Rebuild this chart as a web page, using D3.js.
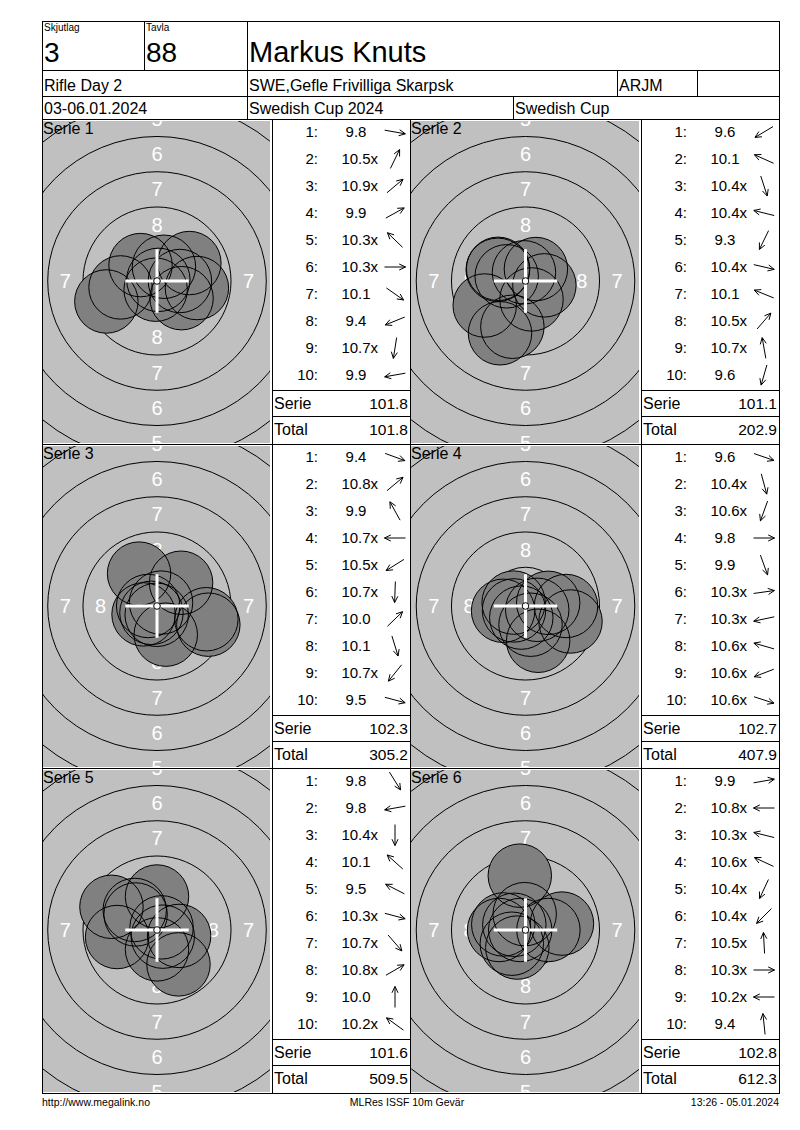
<!DOCTYPE html>
<html>
<head>
<meta charset="utf-8">
<script src="https://cdn.jsdelivr.net/npm/d3@7"></script>
<style>
  body { margin: 0; background: #fff; }
  svg text { font-family: "Liberation Sans", Arial, sans-serif; fill: #000; }
</style>
</head>
<body>
<div id="card"></div>
<script>
// header values
const headerLabels = ["Skjutlag", "Tavla"];
const headerValues = ["3", "88"];
const shooterName = "Markus Knuts";
const eventInfo = ["Rifle Day 2", "SWE,Gefle Frivilliga Skarpsk", "ARJM", ""];
const matchInfo = ["03-06.01.2024", "Swedish Cup 2024", "Swedish Cup"];
const footerInfo = ["http://www.megalink.no", "MLRes ISSF 10m Gevär", "13:26 - 05.01.2024"];

// series data: decimal score, inner ten flag and direction (degrees, 0 = right, 90 = up)
const seriesNames = ["Serie 1", "Serie 2", "Serie 3", "Serie 4", "Serie 5", "Serie 6"];
const seriesScores = [
  [9.8, 10.5, 10.9, 9.9, 10.3, 10.3, 10.1, 9.4, 10.7, 9.9],
  [9.6, 10.1, 10.4, 10.4, 9.3, 10.4, 10.1, 10.5, 10.7, 9.6],
  [9.4, 10.8, 9.9, 10.7, 10.5, 10.7, 10.0, 10.1, 10.7, 9.5],
  [9.6, 10.4, 10.6, 9.8, 9.9, 10.3, 10.3, 10.6, 10.6, 10.6],
  [9.8, 9.8, 10.4, 10.1, 9.5, 10.3, 10.7, 10.8, 10.0, 10.2],
  [9.9, 10.8, 10.3, 10.6, 10.4, 10.4, 10.5, 10.3, 10.2, 9.4]
];
const seriesInner = [
  [0, 1, 1, 0, 1, 1, 0, 0, 1, 0],
  [0, 0, 1, 1, 0, 1, 0, 1, 1, 0],
  [0, 1, 0, 1, 1, 1, 0, 0, 1, 0],
  [0, 1, 1, 0, 0, 1, 1, 1, 1, 1],
  [0, 0, 1, 0, 0, 1, 1, 1, 0, 1],
  [0, 1, 1, 1, 1, 1, 1, 1, 1, 0]
];
const seriesAngles = [
  [-10, 64, 40, 29, 136, 0, -35, 202, 261, 190],
  [211, 156, -72, 166, 244, -13, 158, 49, 100, 254],
  [-20, 40, 119, 180, 212, 268, 44, -73, 231, -15],
  [-19, -75, 250, 0, -70, 8, 192, 164, 201, -18],
  [-58, 190, 270, 138, 153, -15, -49, 30, 90, 144],
  [10, 180, 166, 155, 245, 225, 93, 0, 180, 96]
];
const ringNumbers = [1, 2, 3, 4, 5, 6, 7, 8];

// ISSF 10m air rifle geometry in mm
const ringRadius = n => 0.25 + 2.5 * (10 - n);
const labelRadius = n => 2.5 * (10 - n) - 1.0;
const pelletRadius = 2.25;
const shotDistance = s => (10.95 - s) * 2.5;

const W = 800, H = 1130;
const frameL = 42, frameR = 779, frameT = 21, frameB = 1093;
const pxPerMm = 14.1;
const fmt = d3.format(".1f");

const svg = d3.select("#card").append("svg")
  .attr("width", W)
  .attr("height", H)
  .attr("viewBox", `0 0 ${W} ${H}`);

const lines = svg.append("g")
  .attr("stroke", "#000")
  .attr("stroke-width", 1)
  .attr("shape-rendering", "crispEdges");

function hline(y, x1, x2) {
  lines.append("line").attr("x1", x1).attr("x2", x2).attr("y1", y + 0.5).attr("y2", y + 0.5);
}
function vline(x, y1, y2) {
  lines.append("line").attr("x1", x + 0.5).attr("x2", x + 0.5).attr("y1", y1).attr("y2", y2);
}

// header
const head = svg.append("g");
hline(70, frameL, frameR);
hline(96, frameL, frameR);
hline(119, frameL, frameR);
vline(144, frameT, 70);
vline(247, frameT, 119);
vline(617, 70, 96);
vline(697, 70, 96);
vline(513, 96, 119);

const headerX = [44, 146];
head.selectAll("text.small")
  .data(headerLabels)
  .join("text")
  .attr("class", "small")
  .attr("x", (d, i) => headerX[i])
  .attr("y", 31)
  .attr("font-size", 10)
  .text(d => d);
head.selectAll("text.big")
  .data(headerValues)
  .join("text")
  .attr("class", "big")
  .attr("x", (d, i) => headerX[i])
  .attr("y", 61.5)
  .attr("font-size", 28)
  .text(d => d);
head.append("text")
  .attr("x", 249)
  .attr("y", 61.5)
  .attr("font-size", 29)
  .text(shooterName);

const eventX = [44, 249, 619, 699];
head.selectAll("text.event")
  .data(eventInfo)
  .join("text")
  .attr("class", "event")
  .attr("x", (d, i) => eventX[i])
  .attr("y", 91)
  .attr("font-size", 16)
  .text(d => d);

const matchX = [44, 249, 515];
head.selectAll("text.match")
  .data(matchInfo)
  .join("text")
  .attr("class", "match")
  .attr("x", (d, i) => matchX[i])
  .attr("y", 113.5)
  .attr("font-size", 16)
  .text(d => d);

// panels
const rowY = d3.scaleLinear().domain([0, 3]).range([119, frameB]);
const colX = d3.scaleOrdinal().domain([0, 1]).range([42, 410]);
const targetWidth = [230, 231];
const listWidth = 138;
const shotRow = d3.scalePoint().domain(d3.range(1, 11)).range([13, 256]);

for (let r = 1; r < 3; r++) hline(Math.round(rowY(r)), frameL, frameR);
vline(272, 119, frameB);
vline(410, 119, frameB);
vline(641, 119, frameB);

const defs = svg.append("defs");
let runningTotal = 0;

seriesNames.forEach((name, p) => {
  const col = p % 2;
  const row = Math.floor(p / 2);
  const x0 = colX(col);
  const y0 = Math.round(rowY(row));
  const y1 = Math.round(rowY(row + 1));
  const tw = targetWidth[col];
  const cx = x0 + tw / 2;
  const cy = y0 + 162;
  const clip = {x: x0 + 1, y: y0 + 2, w: tw - 3, h: y1 - y0 - 3};

  const xs = d3.scaleLinear().domain([0, 1]).range([cx, cx + pxPerMm]);
  const ys = d3.scaleLinear().domain([0, 1]).range([cy, cy - pxPerMm]);
  const rs = d3.scaleLinear().domain([0, 1]).range([0, pxPerMm]);

  const clipId = `clip${p}`;
  defs.append("clipPath").attr("id", clipId)
    .append("rect")
    .attr("x", clip.x)
    .attr("y", clip.y)
    .attr("width", clip.w)
    .attr("height", clip.h);

  const target = svg.append("g").attr("clip-path", `url(#${clipId})`);

  target.append("rect")
    .attr("x", clip.x)
    .attr("y", clip.y)
    .attr("width", clip.w)
    .attr("height", clip.h)
    .attr("fill", "#c0c0c0");

  target.append("g")
    .selectAll("circle")
    .data(d3.range(1, 10))
    .join("circle")
    .attr("cx", cx)
    .attr("cy", cy)
    .attr("r", n => rs(ringRadius(n)))
    .attr("fill", "none")
    .attr("stroke", "#000");

  const shots = seriesScores[p].map((s, i) => {
    const a = seriesAngles[p][i] * Math.PI / 180;
    const d = shotDistance(s);
    return {x: d * Math.cos(a), y: d * Math.sin(a)};
  });
  const shotR = rs(pelletRadius);

  // ring numbers: skip the ones that fall outside the view or sit under the shots
  const labelPos = ringNumbers.flatMap(n => {
    const d = labelRadius(n);
    return [[n, 0, d], [n, 0, -d], [n, -d, 0], [n, d, 0]];
  }).filter(d => {
    const px = xs(d[1]), py = ys(d[2]);
    if (px < clip.x - 5 || px > clip.x + clip.w + 5) return false;
    if (py < clip.y - 7 || py > clip.y + clip.h + 7) return false;
    const corners = [[-6, -7], [6, -7], [-6, 7], [6, 7], [0, 0]];
    const hidden = corners.every(([ox, oy]) => shots.some(s =>
      Math.hypot(px + ox - xs(s.x), py + oy - ys(s.y)) < shotR - 1));
    return !hidden;
  });
  target.append("g")
    .selectAll("text")
    .data(labelPos)
    .join("text")
    .attr("x", d => xs(d[1]))
    .attr("y", d => ys(d[2]) + 7)
    .attr("text-anchor", "middle")
    .attr("font-size", 20)
    .style("fill", "#fff")
    .text(d => d[0]);

  target.append("g")
    .selectAll("circle")
    .data(shots)
    .join("circle")
    .attr("cx", d => xs(d.x))
    .attr("cy", d => ys(d.y))
    .attr("r", shotR)
    .attr("fill", "#808080");
  target.append("g")
    .selectAll("circle")
    .data(shots)
    .join("circle")
    .attr("cx", d => xs(d.x))
    .attr("cy", d => ys(d.y))
    .attr("r", shotR)
    .attr("fill", "none")
    .attr("stroke", "#000");

  target.append("path")
    .attr("d", `M${cx - shotR},${cy}H${cx + shotR}M${cx},${cy - shotR}V${cy + shotR}`)
    .attr("stroke", "#fff")
    .attr("stroke-width", 3);
  target.append("circle")
    .attr("cx", cx)
    .attr("cy", cy)
    .attr("r", 3.3)
    .attr("fill", "#fff")
    .attr("stroke", "#000");

  target.append("text")
    .attr("x", x0 + 1)
    .attr("y", y0 + 15)
    .attr("font-size", 16)
    .text(name);

  // shot list
  const lx = x0 + tw;
  const list = svg.append("g").attr("font-size", 15);
  const rows = list.selectAll("g")
    .data(seriesScores[p].map((s, i) => ({
      n: i + 1, s, inner: seriesInner[p][i], a: seriesAngles[p][i]
    })))
    .join("g")
    .attr("transform", d => `translate(0,${y0 + shotRow(d.n)})`);

  rows.append("text")
    .attr("x", lx + 46)
    .attr("y", 5.4)
    .text(d => `${d.n}:`)
    .attr("text-anchor", "end");

  // numeric part centred, inner ten mark appended after it
  rows.append("text")
    .attr("y", 5.4)
    .text(d => fmt(d.s))
    .each(function(d) {
      const w = this.getComputedTextLength();
      d3.select(this).attr("x", lx + 84 - w / 2);
      if (d.inner) d3.select(this).append("tspan").text("x");
    });

  rows.append("path")
    .attr("d", d => {
      const a = d.a * Math.PI / 180;
      const ux = Math.cos(a), uy = -Math.sin(a);
      const half = 10.5, headLen = 7, spread = 0.45;
      const ax = lx + 123;
      const path = d3.path();
      const tx = ax + ux * half, ty = uy * half;
      path.moveTo(ax - ux * half, -uy * half);
      path.lineTo(tx, ty);
      const back = Math.atan2(-uy, -ux);
      path.moveTo(tx + headLen * Math.cos(back + spread), ty + headLen * Math.sin(back + spread));
      path.lineTo(tx, ty);
      path.lineTo(tx + headLen * Math.cos(back - spread), ty + headLen * Math.sin(back - spread));
      return path.toString();
    })
    .attr("fill", "none")
    .attr("stroke", "#000")
    .attr("stroke-width", 1);

  const serieSum = d3.sum(seriesScores[p]);
  runningTotal += serieSum;
  hline(y0 + 271, lx, lx + listWidth);
  hline(y0 + 297, lx, lx + listWidth);

  const sums = [["Serie", serieSum, 284], ["Total", runningTotal, 310]];
  sums.forEach(([label, value, dy]) => {
    list.append("text")
      .attr("x", lx + 2)
      .attr("y", y0 + dy + 5.6)
      .attr("font-size", 16)
      .text(label);
    list.append("text")
      .attr("x", lx + listWidth - 2)
      .attr("y", y0 + dy + 5.6)
      .attr("text-anchor", "end")
      .attr("font-size", 15.5)
      .text(fmt(value));
  });
});

// outer border on top
svg.append("rect")
  .attr("x", frameL + 0.5)
  .attr("y", frameT + 0.5)
  .attr("width", frameR - frameL)
  .attr("height", frameB - frameT)
  .attr("fill", "none")
  .attr("stroke", "#000")
  .attr("shape-rendering", "crispEdges");

// footer
const footerX = [frameL, 407, frameR];
const footerAnchor = ["start", "middle", "end"];
svg.append("g")
  .selectAll("text")
  .data(footerInfo)
  .join("text")
  .attr("x", (d, i) => footerX[i])
  .attr("y", 1105.5)
  .attr("text-anchor", (d, i) => footerAnchor[i])
  .attr("font-size", 10.5)
  .text(d => d);
</script>
</body>
</html>
